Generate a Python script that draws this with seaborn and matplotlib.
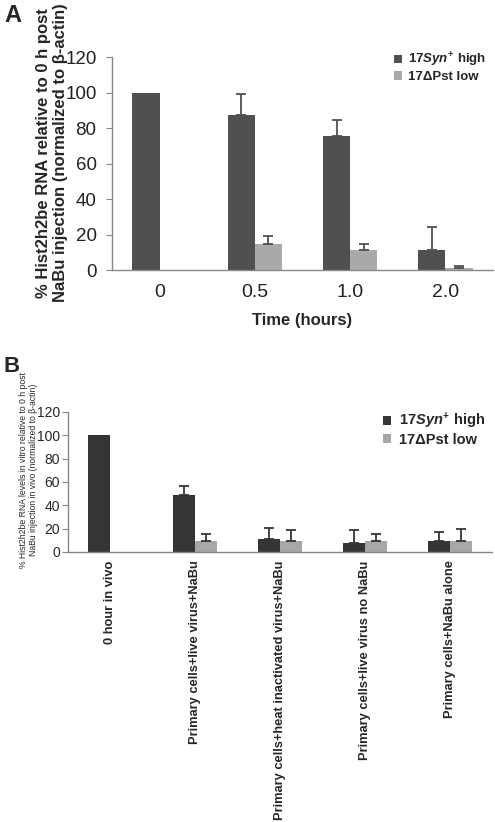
import numpy as np
import pandas as pd
import matplotlib
matplotlib.use("Agg")
import matplotlib.pyplot as plt
import seaborn as sns

# Panel A data
times = ['0', '0.5', '1.0', '2.0']
a_high = [100, 87.5, 75.5, 11.5]
a_high_err = [0, 11.5, 9, 13]
a_low = [0, 14.5, 11.5, 1]
a_low_err = [0, 4.5, 3, 1.5]

# Panel B data
conditions = ['0 hour in vivo',
              'Primary cells+live virus+NaBu',
              'Primary cells+heat inactivated virus+NaBu',
              'Primary cells+live virus no NaBu',
              'Primary cells+NaBu alone']
b_high = [100, 48.5, 11, 8, 9]
b_high_err = [0, 8, 9.5, 11, 8]
b_low = [0, 9, 9, 9, 9]
b_low_err = [0, 6, 10, 6.5, 10.5]

strains = [r'17$\mathit{Syn}^{+}$ high', '17\u0394Pst low']

sns.set_style("white")
plt.rcParams['font.family'] = ['Liberation Sans', 'DejaVu Sans']
plt.rcParams['mathtext.fontset'] = 'custom'
plt.rcParams['mathtext.it'] = 'Liberation Sans:italic:bold'
plt.rcParams['mathtext.rm'] = 'Liberation Sans:bold'


def draw_panel(ax, cats, high, high_err, low, low_err, colors, width, err_color):
    df = pd.DataFrame({
        'cat': cats * 2,
        'value': high + low,
        'strain': [strains[0]] * len(cats) + [strains[1]] * len(cats),
    })
    sns.barplot(data=df, x='cat', y='value', hue='strain', palette=colors,
                width=width, ax=ax, errorbar=None, saturation=1, linewidth=0)
    for cont, errs in zip(ax.containers, [high_err, low_err]):
        for bar, e in zip(cont, errs):
            if e > 0:
                xc = bar.get_x() + bar.get_width() / 2
                ax.errorbar(xc, bar.get_height(), yerr=[[0], [e]], fmt='none',
                            ecolor=err_color, elinewidth=1.3, capsize=3.5, capthick=1.3)
    n = len(cats)
    ax.set_xlim(-0.5, n - 0.5)
    ax.set_ylim(0, 120)
    ax.set_yticks(range(0, 121, 20))
    ax.set_xticks(np.arange(-0.5, n, 1.0), minor=True)
    ax.tick_params(axis='x', which='major', length=0)
    ax.tick_params(axis='x', which='minor', length=5, color='#888888', direction='out')
    ax.tick_params(axis='y', length=4, color='#888888', direction='out', left=True)
    for s in ['top', 'right']:
        ax.spines[s].set_visible(False)
    for s in ['left', 'bottom']:
        ax.spines[s].set_color('#888888')
        ax.spines[s].set_linewidth(1.0)
    ax.set_xlabel('')


fig = plt.figure(figsize=(4.95, 8.22), dpi=100)

# Panel A
axA = fig.add_axes([0.226, 0.6715, 0.77, 0.259])
draw_panel(axA, times, a_high, a_high_err, a_low, a_low_err,
           ['#505050', '#a9a9a9'], 0.57, '#505050')
axA.tick_params(axis='y', labelsize=13.5, pad=7, labelcolor='#222222')
axA.tick_params(axis='x', labelsize=14, pad=10, labelcolor='#222222')
axA.set_ylabel('% Hist2h2be RNA relative to 0 h post\nNaBu injection (normalized to \u03b2-actin)',
               fontsize=12, fontweight='bold', linespacing=1.15)
axA.yaxis.set_label_coords(-0.116, 0.55)
axA.set_xlabel('Time (hours)', fontsize=12, fontweight='bold', labelpad=9)
axA.legend(loc='upper right', bbox_to_anchor=(1.0, 1.06), frameon=False,
           handlelength=0.6, handleheight=0.6, handletextpad=0.5,
           labelspacing=0.15, borderaxespad=0.1,
           prop={'weight': 'bold', 'size': 9.5})
fig.text(0.008, 0.995, 'A', fontsize=17, fontweight='bold', va='top')

# Panel B
axB = fig.add_axes([0.137, 0.3285, 0.857, 0.1703])
draw_panel(axB, conditions, b_high, b_high_err, b_low, b_low_err,
           ['#353535', '#a6a6a6'], 0.52, '#353535')
axB.tick_params(axis='y', labelsize=10, pad=1.5)
axB.tick_params(axis='x', labelsize=9.3, pad=6)
for lbl in axB.get_xticklabels():
    lbl.set_rotation(90)
    lbl.set_fontweight('bold')
    lbl.set_va('top')
axB.set_ylabel('% Hist2h2be RNA levels in vitro relative to 0 h post\nNaBu injection in vivo (normalized to \u03b2-actin)',
               fontsize=6.2, linespacing=1.15)
axB.yaxis.set_label_coords(-0.071, 0.585)
axB.legend(loc='upper right', bbox_to_anchor=(1.0, 1.06), frameon=False,
           handlelength=0.6, handleheight=0.6, handletextpad=0.5,
           labelspacing=0.1, borderaxespad=0.1,
           prop={'weight': 'bold', 'size': 10.5})
fig.text(0.008, 0.567, 'B', fontsize=16, fontweight='bold', va='top')

fig.savefig('out.png', dpi=100)
